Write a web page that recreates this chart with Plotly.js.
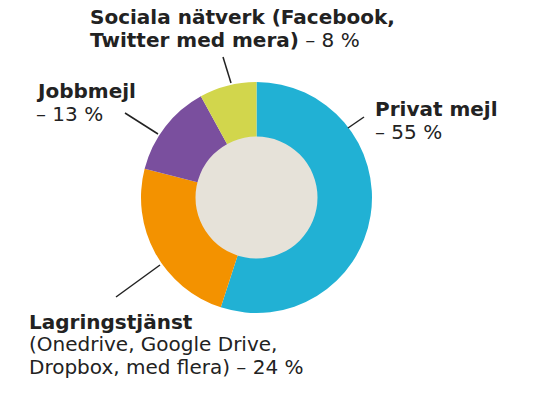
<!DOCTYPE html>
<html>
<head>
<meta charset="utf-8">
<script src="https://cdn.plot.ly/plotly-3.0.1.min.js"></script>
<style>html,body{margin:0;padding:0;background:#fff;}#chart{width:560px;height:394px;}</style>
</head>
<body>
<div id="chart"></div>
<script>
// Data
var categories = ['Privat mejl', 'Lagringstjänst', 'Jobbmejl', 'Sociala nätverk'];
var values = [55, 24, 13, 8];
var colors = ['#21b1d4', '#f39200', '#7a4f9e', '#d2d64c'];
// Label lines: [bold part, regular part] per line
var labelLines = {
  'Privat mejl': [['Privat mejl', ''], ['', '– 55 %']],
  'Lagringstjänst': [['Lagringstjänst', ''], ['', '(Onedrive, Google Drive,'], ['', 'Dropbox, med flera) – 24 %']],
  'Jobbmejl': [['Jobbmejl', ''], ['', '– 13 %']],
  'Sociala nätverk': [['Sociala nätverk (Facebook,', ''], ['Twitter med mera)', ' – 8 %']]
};

var W = 560, H = 394;
var cx = 256.5, cy = 197.5, R = 115.5, r = 60;
function px(x){ return x / W; }
function py(y){ return 1 - y / H; }

// Label placement (pixels): left x, y of first line center, line pitch
var labelPos = {
  'Privat mejl': {x: 373, y: 109},
  'Lagringstjänst': {x: 27, y: 321.5},
  'Jobbmejl': {x: 34, y: 91},
  'Sociala nätverk': {x: 88, y: 17}
};
var pitch = 22.5;
// Leader lines (pixels)
var leaders = {
  'Privat mejl': [364, 117, 348, 128],
  'Lagringstjänst': [116, 297, 160, 265],
  'Jobbmejl': [125, 113, 158, 134],
  'Sociala nätverk': [223, 57, 231, 83]
};

var traces = [
  {
    type: 'pie',
    values: values,
    labels: categories,
    marker: {colors: colors, line: {width: 0}},
    sort: false,
    direction: 'clockwise',
    rotation: 0,
    hole: r / R,
    textinfo: 'none',
    hoverinfo: 'label+percent',
    domain: {x: [px(cx - R), px(cx + R)], y: [py(cy + R), py(cy - R)]},
    showlegend: false
  },
  {
    type: 'pie',
    values: [1],
    labels: ['centrum'],
    marker: {colors: ['#e6e2d9'], line: {width: 0}},
    textinfo: 'none',
    hoverinfo: 'skip',
    domain: {x: [px(cx - r - 1), px(cx + r + 1)], y: [py(cy + r + 1), py(cy - r - 1)]},
    showlegend: false
  }
];

var annotations = [];
var shapes = [];
categories.forEach(function(c){
  var p = labelPos[c];
  labelLines[c].forEach(function(line, i){
    var t = (line[0] ? '<b>' + line[0] + '</b>' : '') + line[1];
    annotations.push({
      xref: 'paper', yref: 'paper',
      x: px(p.x), y: py(p.y + i * pitch),
      xanchor: 'left', yanchor: 'middle',
      text: t, showarrow: false,
      font: {family: '"DejaVu Sans", sans-serif', size: 20, color: '#222222'}
    });
  });
  var l = leaders[c];
  shapes.push({
    type: 'line', xref: 'paper', yref: 'paper',
    x0: px(l[0]), y0: py(l[1]), x1: px(l[2]), y1: py(l[3]),
    line: {color: '#222222', width: 1.5}
  });
});

var layout = {
  width: W, height: H,
  margin: {l: 0, r: 0, t: 0, b: 0},
  paper_bgcolor: '#ffffff',
  showlegend: false,
  annotations: annotations,
  shapes: shapes,
  font: {family: '"DejaVu Sans", sans-serif'}
};

Plotly.newPlot('chart', traces, layout, {displayModeBar: false, staticPlot: true});
</script>
</body>
</html>
